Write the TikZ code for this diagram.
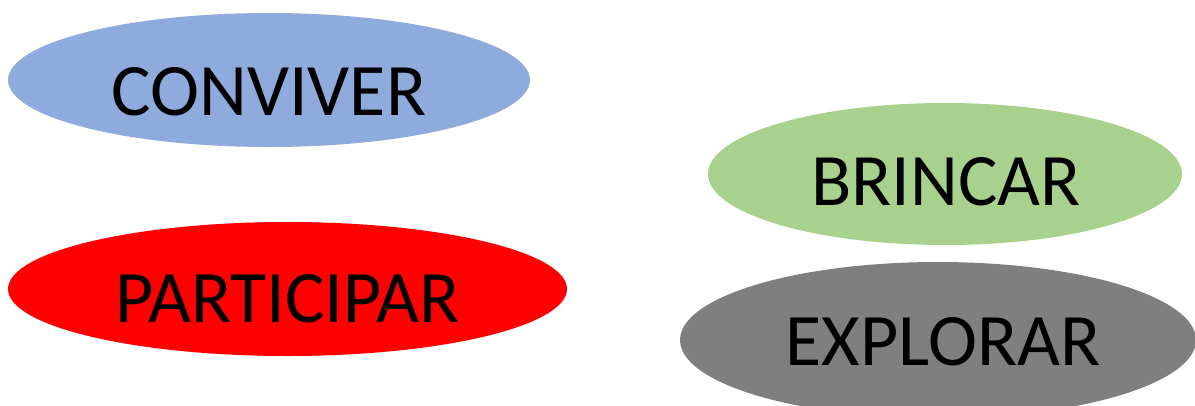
\documentclass[tikz,border=0pt]{standalone}
\usepackage{fontspec}
\setmainfont{Carlito}
\usetikzlibrary{shapes.geometric}
\definecolor{cblue}{HTML}{8FAADC}
\definecolor{cred}{HTML}{FF0000}
\definecolor{cgreen}{HTML}{A9D18E}
\definecolor{cgray}{HTML}{7F7F7F}
\tikzset{
  oval/.style={ellipse, draw=none, inner sep=0pt},
  word/.style={anchor=base, inner sep=0pt, font=\fontsize{74}{80}\selectfont, text=black}
}
\begin{document}
\begin{tikzpicture}[x=1pt,y=-1pt]
\useasboundingbox (0,0) rectangle (1195,405);
\clip (0,0) rectangle (1195,405);
\node[oval, fill=cblue, minimum width=522pt, minimum height=134pt] (conviver) at (269,80) {};
\node[word] (tconviver) at (269,115) {CONVIVER};
\node[oval, fill=cred, minimum width=559pt, minimum height=134pt] (participar) at (287.5,289) {};
\node[word] (tparticipar) at (287.5,322) {PARTICIPAR};
\node[oval, fill=cgreen, minimum width=474pt, minimum height=142pt] (brincar) at (945,174) {};
\node[word] (tbrincar) at (946,205) {BRINCAR};
\node[oval, fill=cgray, minimum width=516pt, minimum height=156pt] (explorar) at (938,340) {};
\node[word] (texplorar) at (943,365) {EXPLORAR};
\end{tikzpicture}
\end{document}
